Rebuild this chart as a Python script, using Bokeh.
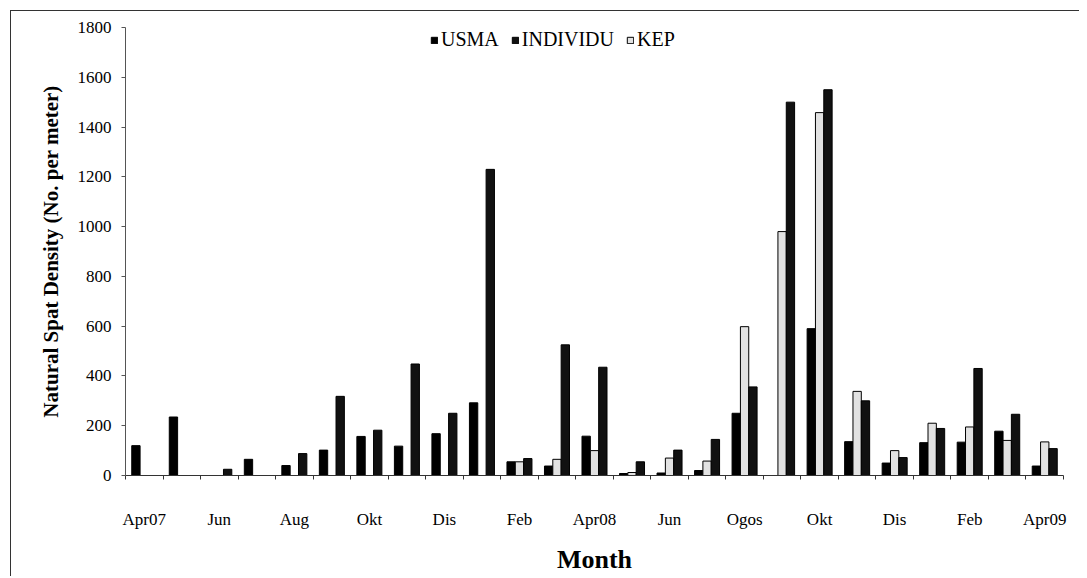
import numpy as np
from bokeh.plotting import figure
from bokeh.models import FixedTicker, Legend, LegendItem, ColumnDataSource, Range1d
from bokeh.transform import dodge
from bokeh.embed import file_html
from bokeh.resources import INLINE

months = ["Apr07", "Mei", "Jun", "Jul", "Aug", "Sep", "Okt", "Nov", "Dis", "Jan", "Feb", "Mac",
          "Apr08", "Mei", "Jun", "Jul", "Ogos", "Sep", "Okt", "Nov", "Dis", "Jan", "Feb", "Mac", "Apr09"]
usma = [120, 235, 0, 65, 40, 102, 157, 118, 168, 292, 55, 38, 158, 8, 10, 20, 250, 0, 590, 136, 50, 132, 134, 178, 38]
individu = [0, 0, 25, 0, 88, 318, 182, 448, 250, 1230, 68, 525, 435, 55, 102, 145, 356, 1500, 1550, 300, 72, 189, 430, 246, 108]
kep = [0, 0, 0, 0, 0, 0, 0, 0, 0, 0, 55, 65, 100, 12, 70, 58, 598, 980, 1458, 338, 100, 210, 195, 141, 135]
y_ticks = [0, 200, 400, 600, 800, 1000, 1200, 1400, 1600, 1800]

SERIF = "Liberation Serif"
n = len(months)
centers = [i + 0.5 for i in range(n)]
bw = 25.0 / 37.5 / 3.0

src = ColumnDataSource(dict(x=centers, usma=usma, individu=individu, kep=kep))

p = figure(frame_width=938, frame_height=448, x_range=Range1d(0, n), y_range=Range1d(0, 1800),
           output_backend="svg", toolbar_location=None,
           min_border_left=114, min_border_right=16, min_border_top=16, min_border_bottom=100)
p.xgrid.visible = False
p.ygrid.visible = False
p.outline_line_color = None
p.background_fill_color = "white"
p.styles = {"margin-left": "10px", "margin-top": "10px",
            "border-left": "1px solid #333", "border-top": "1px solid #333"}

r_u = p.vbar(x=dodge("x", -bw, range=p.x_range), top="usma", width=bw, source=src,
             fill_color="black", line_color="black", line_width=1)
r_k = p.vbar(x=dodge("x", 0, range=p.x_range), top="kep", width=bw, source=src,
             fill_color="#e2e2e2", line_color="black", line_width=1)
r_i = p.vbar(x=dodge("x", bw, range=p.x_range), top="individu", width=bw, source=src,
             fill_color="#111111", line_color="black", line_width=1)

# x axis: labels every second month, tick marks at category boundaries
lab_pos = centers[::2]
p.xaxis.ticker = FixedTicker(ticks=lab_pos, minor_ticks=list(range(n + 1)))
p.xaxis.major_label_overrides = {c: months[int(c - 0.5)] for c in lab_pos}
p.xaxis.major_tick_line_color = None
p.xaxis.major_tick_out = 0
p.xaxis.major_tick_in = 0
p.xaxis.minor_tick_line_color = "#333"
p.xaxis.minor_tick_out = 4
p.xaxis.minor_tick_in = 0
p.xaxis.major_label_standoff = 30
p.xaxis.major_label_text_font = SERIF
p.xaxis.major_label_text_font_size = "17px"
p.xaxis.major_label_text_color = "black"
p.xaxis.axis_line_color = "#333"
p.xaxis.axis_label = "Month"
p.xaxis.axis_label_text_font = SERIF
p.xaxis.axis_label_text_font_style = "bold"
p.xaxis.axis_label_text_font_size = "26px"
p.xaxis.axis_label_text_color = "black"
p.xaxis.axis_label_standoff = 13

p.yaxis.ticker = FixedTicker(ticks=y_ticks)
p.yaxis.minor_tick_line_color = None
p.yaxis.major_tick_out = 4
p.yaxis.major_tick_in = 0
p.yaxis.major_tick_line_color = "#555"
p.yaxis.axis_line_color = "#555"
p.yaxis.major_label_standoff = 10
p.yaxis.major_label_text_font = SERIF
p.yaxis.major_label_text_font_size = "17px"
p.yaxis.major_label_text_color = "black"
p.yaxis.axis_label = "Natural Spat Density (No. per meter)"
p.yaxis.axis_label_text_font = SERIF
p.yaxis.axis_label_text_font_style = "bold"
p.yaxis.axis_label_text_font_size = "21px"
p.yaxis.axis_label_text_color = "black"
p.yaxis.axis_label_standoff = 12

legend = Legend(items=[LegendItem(label="USMA", renderers=[r_u]),
                       LegendItem(label="INDIVIDU", renderers=[r_i]),
                       LegendItem(label="KEP", renderers=[r_k])],
                orientation="horizontal", location=(305, 424),
                glyph_width=8, glyph_height=8, label_standoff=3, spacing=12,
                label_height=22, label_width=20,
                padding=0, margin=0, border_line_color=None, background_fill_alpha=0,
                label_text_font=SERIF, label_text_font_size="20px", label_text_color="black")
p.add_layout(legend, "center")

open("out.html", "w").write(file_html(p, INLINE))
